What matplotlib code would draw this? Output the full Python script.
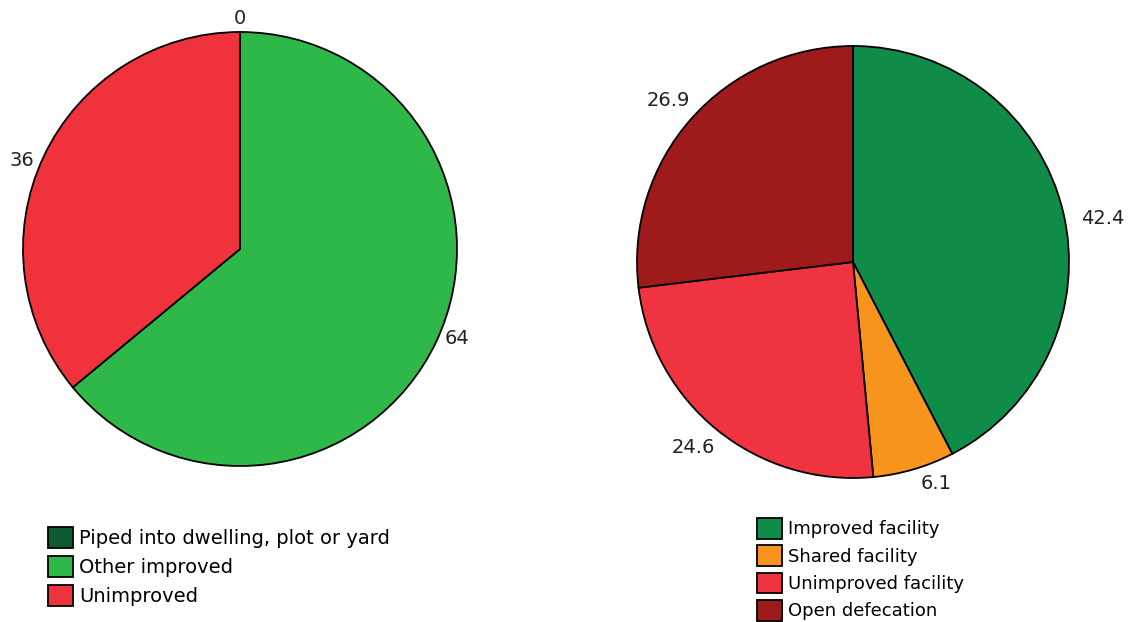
import matplotlib.pyplot as plt

water_labels = ['Piped into dwelling, plot or yard', 'Other improved', 'Unimproved']
water_values = [0, 64, 36]
water_colors = ['#0d5a32', '#2fb84a', '#ef323c']

san_labels = ['Improved facility', 'Shared facility', 'Unimproved facility', 'Open defecation']
san_values = [42.4, 6.1, 24.6, 26.9]
san_colors = ['#0e8c48', '#f7941d', '#ef3340', '#9e1a1b']

# small pixel nudges for the value labels (right, down)
water_nudge = [(0, 4), (5, -10), (-6, 11)]
san_nudge = [(10, 15), (14, -15), (-5, -6), (0, 2)]

W, H = 1132, 622
fig = plt.figure(figsize=(W / 100, H / 100), dpi=100)


def add_pie(cx, cy, r, values, colors, names, nudge, ldist, leg_xy, leg_fs, leg_sp):
    ax = fig.add_axes([(cx - r) / W, (H - cy - r) / H, 2 * r / W, 2 * r / H])
    texts = [('%g' % v) for v in values]
    wedges, labels = ax.pie(values, colors=colors, labels=texts, startangle=90,
                            counterclock=False, labeldistance=ldist,
                            wedgeprops=dict(edgecolor='black', linewidth=1.3),
                            textprops=dict(fontsize=14, color='#222222',
                                           ha='center', va='center'))
    for t, (dx, dy) in zip(labels, nudge):
        x, y = t.get_position()
        t.set_position((x + dx / r, y - dy / r))
    ax.set_xlim(-1, 1)
    ax.set_ylim(-1, 1)
    px = leg_fs * 100 / 72
    fig.legend(wedges, names, loc='upper left',
               bbox_to_anchor=(leg_xy[0] / W, 1 - leg_xy[1] / H),
               frameon=False, fontsize=leg_fs, handlelength=25 / px,
               handleheight=25 / px, handletextpad=6 / px,
               labelspacing=leg_sp, borderpad=0, borderaxespad=0)
    return ax


add_pie(240, 249, 217, water_values, water_colors, water_labels, water_nudge, 1.08,
        (48, 527), 14, 0.4)
add_pie(853, 262, 216, san_values, san_colors, san_labels, san_nudge, 1.14,
        (757, 518), 13, 0.37)

plt.savefig('out.png', dpi=100)
